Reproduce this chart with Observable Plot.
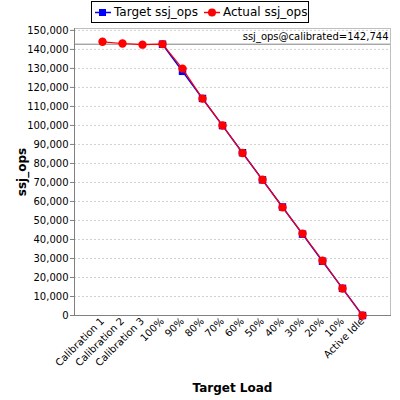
<!DOCTYPE html>
<html>
<head>
<meta charset="utf-8">
<script src="https://cdn.jsdelivr.net/npm/d3@7"></script>
<script src="https://cdn.jsdelivr.net/npm/@observablehq/plot@0.6"></script>
<style>
  html, body { margin: 0; padding: 0; background: #fff; }
  #wrap { width: 400px; height: 400px; font-family: "DejaVu Sans", sans-serif; }
  #legend { position: relative; width: 400px; height: 26px; }
  #legend .box { position: absolute; left: 91px; top: 1px; width: 216px; height: 20px; border: 1px solid #000; box-sizing: content-box; display: flex; align-items: center; font-size: 12px; color: #000; }
  #legend .item { display: flex; align-items: center; margin-left: 3px; }
  #legend svg { display: block; }
  #legend .lbl { margin-left: 3px; margin-right: 3px; white-space: nowrap; }
</style>
</head>
<body>
<div id="wrap">
  <div id="legend"></div>
  <div id="chart"></div>
</div>
<script>
const categories = ["Calibration 1","Calibration 2","Calibration 3","100%","90%","80%","70%","60%","50%","40%","30%","20%","10%","Active Idle"];
const targetCategories = ["100%","90%","80%","70%","60%","50%","40%","30%","20%","10%","Active Idle"];
const targetValues = [142744,128470,114195,99921,85646,71372,57098,42823,28549,14274,0];
const actualValues = [144000,143100,142500,142800,129900,114100,100000,85500,71400,56900,43100,28800,14200,0];
const calibrated = 142744;
const calibratedLabel = "ssj_ops@calibrated=142,744";
const yTicks = [0,10000,20000,30000,40000,50000,60000,70000,80000,90000,100000,110000,120000,130000,140000,150000];
const seriesNames = ["Target ssj_ops","Actual ssj_ops"];
const seriesColors = ["#0000ff","#ff0000"];

const target = targetCategories.map((c,i)=>({cat:c, v:targetValues[i]}));
const actual = categories.map((c,i)=>({cat:c, v:actualValues[i]}));

// legend
const lg = document.getElementById("legend");
const box = document.createElement("div"); box.className = "box"; lg.appendChild(box);
seriesNames.forEach((name,i)=>{
  const it = document.createElement("div"); it.className = "item";
  const marker = i === 0
    ? `<rect x="4" y="3" width="7" height="7" fill="${seriesColors[i]}"/>`
    : `<circle cx="8" cy="6.5" r="4" fill="${seriesColors[i]}"/>`;
  it.innerHTML = `<svg width="16" height="13"><line x1="0" x2="16" y1="6.5" y2="6.5" stroke="${seriesColors[i]}" stroke-width="1.5"/>${marker}</svg><span class="lbl">${name}</span>`;
  box.appendChild(it);
});

const chart = Plot.plot({
  width: 400,
  height: 374,
  marginTop: 2,
  marginBottom: 85,
  marginLeft: 74,
  marginRight: 10,
  style: { fontFamily: "DejaVu Sans, sans-serif", fontSize: "10px", background: "#fff", color: "#000" },
  x: { type: "point", domain: categories, padding: 1.1 },
  y: { domain: [0, 151000] },
  marks: [
    Plot.gridY(yTicks, { stroke: "#d0d0d0", strokeOpacity: 1, strokeDasharray: "2,2" }),
    Plot.frame({ stroke: "#c0c0c0" }),
    Plot.frame({ anchor: "left", stroke: "#808080" }),
    Plot.frame({ anchor: "bottom", stroke: "#808080" }),
    Plot.axisY(yTicks, { tickFormat: d3.format(","), tickSize: 4, tickPadding: 2, stroke: "#808080", fontSize: 10, label: "ssj_ops", labelAnchor: "center", labelOffset: 57, labelArrow: "none" }),
    Plot.axisX({ tickRotate: -45, tickSize: 0, tickPadding: 4, fontSize: 10, label: "Target Load", labelAnchor: "center", labelOffset: 76, labelArrow: "none" }),
    Plot.ruleY([calibrated], { stroke: "#808080" }),
    Plot.text([calibratedLabel], { frameAnchor: "right", y: () => calibrated, dx: -2, dy: -7, textAnchor: "end", fontSize: 10, fill: "#000" }),
    Plot.line(target, { x: "cat", y: "v", stroke: seriesColors[0], strokeWidth: 1.5 }),
    Plot.dot(target, { x: "cat", y: "v", symbol: "square", r: 4.2, fill: seriesColors[0] }),
    Plot.line(actual, { x: "cat", y: "v", stroke: seriesColors[1], strokeWidth: 1.2 }),
    Plot.dot(actual, { x: "cat", y: "v", symbol: "circle", r: 4.2, fill: seriesColors[1] })
  ]
});
// style axis labels bold
chart.querySelectorAll('g[aria-label="y-axis label"] text, g[aria-label="x-axis label"] text').forEach(t => {
  t.setAttribute("font-weight", "bold"); t.setAttribute("font-size", "12");
});
document.getElementById("chart").appendChild(chart);
</script>
</body>
</html>
